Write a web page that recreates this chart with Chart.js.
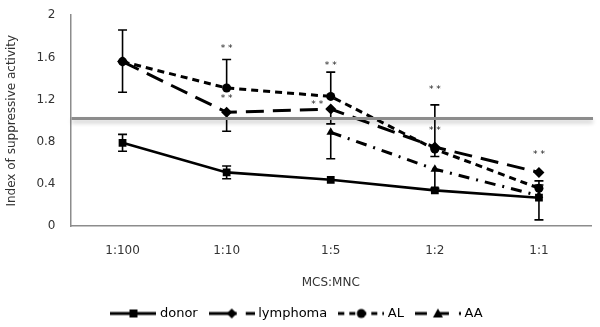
<!DOCTYPE html>
<html>
<head>
<meta charset="utf-8">
<script src="https://cdn.jsdelivr.net/npm/chart.js@4.4.1/dist/chart.umd.min.js"></script>
<style>
  html, body { margin: 0; padding: 0; background: #fff; overflow: hidden; }
  #wrap { width: 600px; height: 334px; position: relative; margin-top: -7px; }
</style>
</head>
<body>
<div id="wrap"><canvas id="chart"></canvas></div>
<script>
// Suppressive activity by MCS:MNC ratio

const categories = ['1:100', '1:10', '1:5', '1:2', '1:1'];
const yTicks = [0, 0.4, 0.8, 1.2, 1.6, 2];

const donor = [0.79, 0.51, 0.44, 0.34, 0.27];
const lymphoma = [1.56, 1.08, 1.11, 0.75, 0.51];
const al = [1.56, 1.31, 1.23, 0.73, 0.36];
const aa = [null, null, 0.89, 0.54, 0.29];

// error bar lengths (upper / lower)
const donorErrUp = [0.08, 0.06, 0, 0, 0.12];
const donorErrDown = [0.08, 0.06, 0, 0, 0.21];
const lymphomaErrUp = [0.30, 0, 0, 0, 0];
const lymphomaErrDown = [0, 0.18, 0.14, 0.09, 0];
const alErrUp = [0, 0.27, 0.23, 0.42, 0.07];
const alErrDown = [0.29, 0, 0, 0, 0];
const aaErrUp = [0, 0, 0, 0, 0];
const aaErrDown = [0, 0, 0.25, 0.18, 0];

// significance marks: category index, value
const starIndex = [1, 1, 2, 1.87, 3, 3, 4];
const starValue = [1.68, 1.21, 1.52, 1.155, 1.29, 0.91, 0.68];

const refValue = 1.02;

const errUp = [donorErrUp, lymphomaErrUp, alErrUp, aaErrUp];
const errDown = [donorErrDown, lymphomaErrDown, alErrDown, aaErrDown];

const FONT = '"DejaVu Sans", sans-serif';

// legend icon: dashed line with marker in the middle
function legendIcon(dash, marker) {
    const c = document.createElement('canvas');
    c.width = 46;
    c.height = 12;
    const ctx = c.getContext('2d');
    ctx.strokeStyle = '#000';
    ctx.fillStyle = '#000';
    ctx.lineWidth = 3;
    ctx.setLineDash(dash);
    ctx.beginPath();
    ctx.moveTo(0, 6);
    ctx.lineTo(46, 6);
    ctx.stroke();
    ctx.setLineDash([]);
    ctx.beginPath();
    if (marker === 'rect') {
        ctx.rect(19, 2, 8, 8);
    } else if (marker === 'diamond') {
        ctx.moveTo(23, 1); ctx.lineTo(28, 6); ctx.lineTo(23, 11); ctx.lineTo(18, 6);
        ctx.closePath();
    } else if (marker === 'circle') {
        ctx.arc(23, 6, 4.5, 0, Math.PI * 2);
    } else {
        ctx.moveTo(23, 1); ctx.lineTo(28, 10); ctx.lineTo(18, 10);
        ctx.closePath();
    }
    ctx.fill();
    return c;
}

const dashLymphoma = [18, 9];
const dashAL = [7, 5];
const dashAA = [11, 7, 2, 7];

const icons = [
    legendIcon([], 'rect'),
    legendIcon([28, 9], 'diamond'),
    legendIcon([6, 5], 'circle'),
    legendIcon([12, 10], 'triangle')
];

const errorBars = {
    id: 'errorBars',
    beforeDatasetsDraw(chart) {
        const ctx = chart.ctx;
        const y = chart.scales.y;
        ctx.save();
        ctx.strokeStyle = '#000';
        ctx.lineWidth = 1.6;
        chart.data.datasets.forEach((ds, i) => {
            const meta = chart.getDatasetMeta(i);
            ds.data.forEach((v, j) => {
                if (v === null) return;
                const x = meta.data[j].x;
                const y0 = y.getPixelForValue(v);
                [[errUp[i][j], 1], [errDown[i][j], -1]].forEach(([e, s]) => {
                    if (!e) return;
                    const y1 = y.getPixelForValue(v + s * e);
                    ctx.beginPath();
                    ctx.moveTo(x, y0);
                    ctx.lineTo(x, y1);
                    ctx.moveTo(x - 4.5, y1);
                    ctx.lineTo(x + 4.5, y1);
                    ctx.stroke();
                });
            });
        });
        ctx.restore();
    }
};

const overlay = {
    id: 'overlay',
    afterDatasetsDraw(chart) {
        const ctx = chart.ctx;
        const x = chart.scales.x;
        const y = chart.scales.y;
        const area = chart.chartArea;
        // reference line at 1
        ctx.save();
        ctx.strokeStyle = '#8c8c8c';
        ctx.lineWidth = 3;
        ctx.shadowColor = 'rgba(0,0,0,0.22)';
        ctx.shadowBlur = 4;
        ctx.shadowOffsetY = 3;
        const ry = y.getPixelForValue(refValue);
        ctx.beginPath();
        ctx.moveTo(area.left + 1, ry);
        ctx.lineTo(area.right + 2, ry);
        ctx.stroke();
        ctx.restore();
        // stars
        ctx.save();
        ctx.fillStyle = '#222';
        ctx.font = '9px ' + FONT;
        ctx.textAlign = 'center';
        ctx.textBaseline = 'middle';
        starIndex.forEach((idx, k) => {
            ctx.fillText('* *', x.getPixelForValue(idx), y.getPixelForValue(starValue[k]));
        });
        ctx.restore();
    }
};

function lineSet(label, data, dash, style, radius, width) {
    return {
        label: label,
        data: data,
        borderColor: '#000',
        backgroundColor: '#000',
        borderWidth: width,
        borderDash: dash,
        pointStyle: style,
        pointRadius: radius,
        pointBorderWidth: 0,
        pointBackgroundColor: '#000',
        tension: 0,
        fill: false,
        spanGaps: false
    };
}

new Chart(document.getElementById('chart'), {
    type: 'line',
    data: {
        labels: categories,
        datasets: [
            lineSet('donor', donor, [], 'rect', 5.5, 2.6),
            lineSet('lymphoma', lymphoma, dashLymphoma, 'rectRot', 5.5, 3),
            lineSet('AL', al, dashAL, 'circle', 4.5, 3),
            lineSet('AA', aa, dashAA, 'triangle', 5, 3)
        ]
    },
    options: {
        responsive: true,
        maintainAspectRatio: false,
        animation: false,
        layout: {
            autoPadding: false,
            padding: { top: 0, right: 9, left: 5, bottom: -3 }
        },
        plugins: {
            tooltip: { enabled: false },
            legend: {
                display: true,
                position: 'bottom',
                labels: {
                    color: '#333',
                    font: { size: 13, family: FONT },
                    usePointStyle: true,
                    pointStyleWidth: 40,
                    padding: 14,
                    boxHeight: 12,
                    generateLabels(chart) {
                        return chart.data.datasets.map((ds, i) => ({
                            text: ds.label,
                            pointStyle: icons[i],
                            fillStyle: '#000',
                            strokeStyle: '#000',
                            lineWidth: 0,
                            hidden: false,
                            datasetIndex: i
                        }));
                    }
                }
            }
        },
        scales: {
            x: {
                offset: true,
                grid: { display: false, drawTicks: false },
                border: { display: true, color: '#8c8c8c', width: 1.5 },
                ticks: {
                    color: '#333',
                    font: { size: 12, family: FONT },
                    padding: 17,
                    maxRotation: 0
                },
                title: {
                    display: true,
                    text: 'MCS:MNC',
                    color: '#333',
                    font: { size: 12, family: FONT },
                    padding: { top: 1, bottom: 3 }
                }
            },
            y: {
                min: 0,
                max: 2,
                afterBuildTicks(scale) {
                    scale.ticks = yTicks.map(v => ({ value: v }));
                },
                grid: { display: false, drawTicks: false },
                border: { display: true, color: '#8c8c8c', width: 1.5 },
                ticks: {
                    color: '#333',
                    font: { size: 12, family: FONT },
                    padding: 15,
                    callback: v => String(v)
                },
                title: {
                    display: true,
                    text: 'Index of suppressive activity',
                    color: '#333',
                    font: { size: 12, family: FONT },
                    padding: { top: 0, bottom: 2 }
                }
            }
        }
    },
    plugins: [errorBars, overlay]
});
</script>
</body>
</html>
